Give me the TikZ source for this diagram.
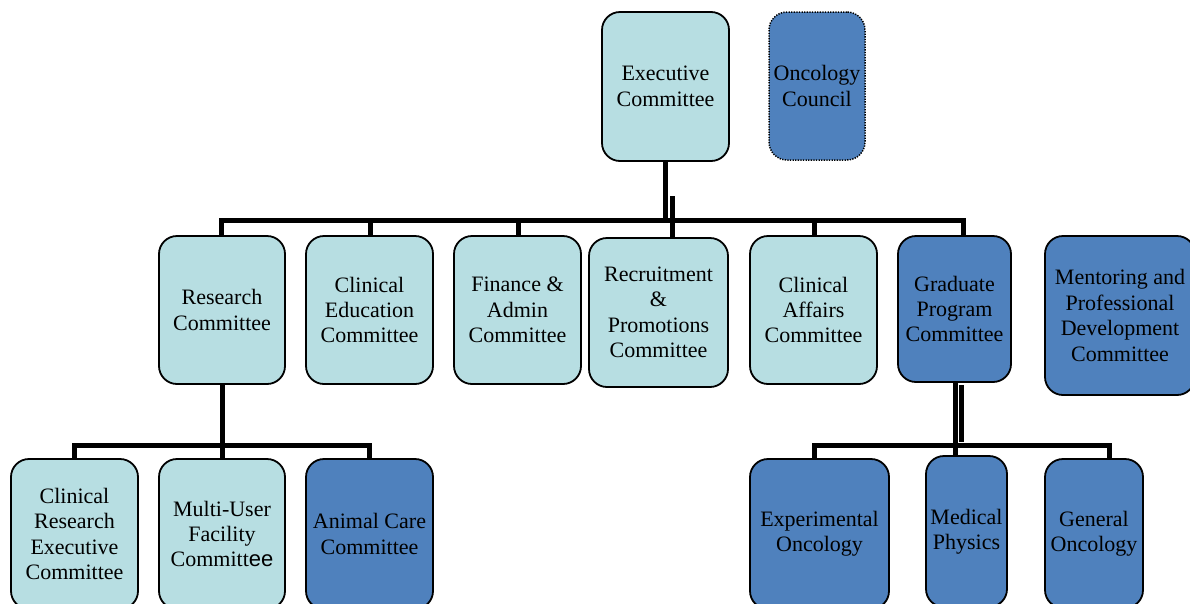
\documentclass[tikz,border=0pt]{standalone}
\usepackage{fontspec}
\setmainfont{Liberation Serif}
\newfontfamily\arialfont{Liberation Sans}
\definecolor{lightc}{RGB}{183,222,226}
\definecolor{darkc}{RGB}{79,129,189}
\tikzset{
  orgbox/.style={draw=black, line width=1.8pt, rounded corners=18pt, inner sep=0pt,
    align=center, font=\fontsize{22}{25.4}\selectfont},
  lightbox/.style={orgbox, fill=lightc},
  darkbox/.style={orgbox, fill=darkc},
  dotbox/.style={darkbox, line width=1.5pt, dash pattern=on 1.3pt off 1.3pt},
  conn/.style={draw=black, line width=5pt, line join=miter},
  sz/.style 2 args={minimum width=#1pt, minimum height=#2pt}
}
\begin{document}
\begin{tikzpicture}[x=1pt,y=-1pt]
\path[use as bounding box, clip] (0,0) rectangle (1190,603);
\fill[white] (0,0) rectangle (1190,603);
% coordinates for bus lines
\coordinate (busA) at (0,220.5);
\coordinate (busB) at (0,445);
% drop points that are not at node centres
\coordinate (rdrop) at (672.5,196);
\coordinate (gdrop) at (963,236);
\coordinate (gup1) at (955.5,382);
\coordinate (gup2) at (961.5,385);
\coordinate (gup2e) at (961.5,442);
\coordinate (mpdrop) at (955.5,456);
\coordinate (godrop) at (1109,459);
\coordinate (eodrop) at (814,459);

% connectors (drawn first, under boxes)
\coordinate (researchN) at (221,236);
\coordinate (execS) at (665.5,161);
\draw[conn] (execS) -- (execS |- busA);
\draw[conn] (researchN) -- (researchN |- busA) -- (gdrop |- busA) -- (gdrop);
\draw[conn] (370,220.5) -- (370,236);
\draw[conn] (518,220.5) -- (518,236);
\draw[conn] (814,220.5) -- (814,236);
\draw[conn] (rdrop) -- (rdrop |- 0,238);

% nodes
\node[lightbox, sz={127}{149}] (exec) at (665.5,86.5) {Executive\\Committee};
\node[dotbox, sz={96}{148}] (onc) at (817,86) {Oncology\\Council};

\node[lightbox, sz={126}{148}] (research) at (222,310) {Research\\Committee};
\node[lightbox, sz={127}{148}] (clined) at (369.5,310) {Clinical\\Education\\Committee};
\node[lightbox, sz={127}{148}] (finance) at (517.5,310) {Finance \&\\Admin\\Committee};
\node[lightbox, sz={139}{149}] (recruit) at (658.5,312.5) {Recruitment\\\&\\Promotions\\Committee};
\node[lightbox, sz={127}{148}] (claff) at (813.5,310) {Clinical\\Affairs\\Committee};
\node[darkbox, sz={113}{146}] (grad) at (954.5,309) {Graduate\\Program\\Committee};
\node[darkbox, sz={150}{159}] (mentor) at (1120,315.5) {Mentoring and\\Professional\\Development\\Committee};

\node[lightbox, sz={127}{150}] (crex) at (74.5,534) {Clinical\\Research\\Executive\\Committee};
\node[lightbox, sz={126}{150}] (multi) at (222,534) {Multi-User\\Facility\\Committ{\arialfont ee}};
\node[darkbox, sz={127}{150}] (animal) at (369.5,534) {Animal Care\\Committee};

\node[darkbox, sz={139}{150}] (expon) at (819.5,534) {Experimental\\Oncology};
\node[darkbox, sz={81}{151}] (medphys) at (966.5,531.5) {Medical\\Physics};
\node[darkbox, sz={98}{149}] (genon) at (1094,533.5) {General\\Oncology};

% lower connectors
\draw[conn] (research.south) -- (research.south |- busB);
\draw[conn] (crex.north) -- (crex.north |- busB) -- (animal.north |- busB) -- (animal.north);
\draw[conn] (multi.north) -- (multi.north |- busB);
\draw[conn] (gup1) -- (gup1 |- busB);
\draw[conn] (gup2) -- (gup2e);
\draw[conn] (eodrop) -- (eodrop |- busB) -- (godrop |- busB) -- (godrop);
\draw[conn] (mpdrop) -- (mpdrop |- busB);
\end{tikzpicture}
\end{document}
